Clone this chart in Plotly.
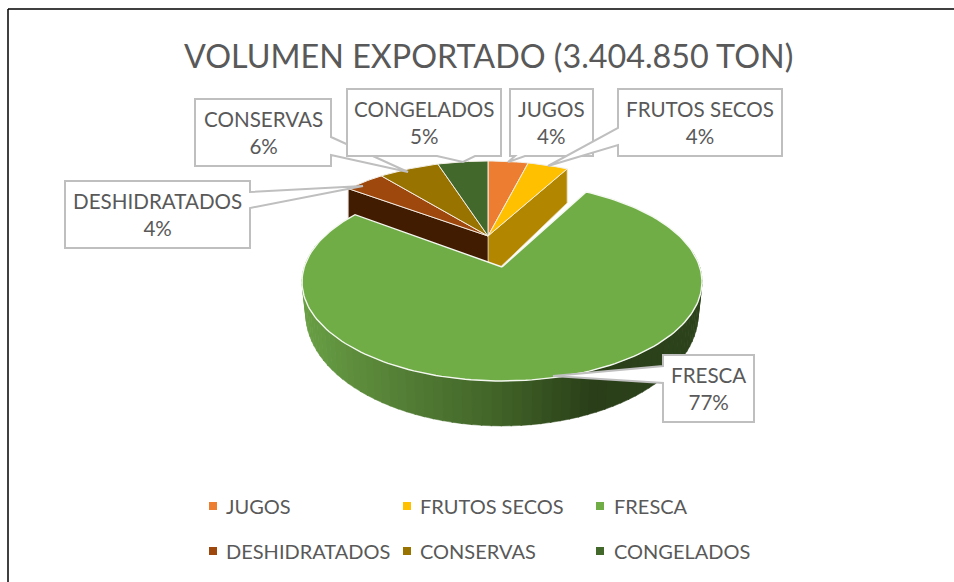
import numpy as np
import plotly.graph_objects as go

categories = ["JUGOS", "FRUTOS SECOS", "FRESCA", "DESHIDRATADOS", "CONSERVAS", "CONGELADOS"]
values = [4, 4, 77, 4, 6, 5]
colors = ["#ED7D31", "#FFC000", "#70AD47", "#9E480E", "#997300", "#43682B"]
title_text = "VOLUMEN EXPORTADO (3.404.850 TON)"
TXT = "#595959"
GRAY = "#BFBFBF"
FONT = "Lato"

total = sum(values)
bounds = np.cumsum([0] + values) / total * 360.0


def project(theta, cx, cy, rx, ry, k, r=1.0):
    t = np.radians(theta)
    u, v = r * np.sin(t), r * np.cos(t)
    w = 1 + k * v
    return cx + rx * u / w, cy - ry * v / w


SMALL = dict(cx=488, cy=236, rx=193, ry=90, k=0.2)
SMALL_B = dict(cx=488, cy=279, rx=193, ry=102, k=0.2)
FRESH = dict(cx=502, cy=267, rx=197.7, ry=96.9, k=0.15)
FRESH_B = dict(cx=502, cy=297, rx=194, ry=109.6, k=0.15)

fig = go.Figure()


def poly(xs, ys, fill, line="white", width=1.0, name=None):
    fig.add_trace(go.Scatter(
        x=list(xs), y=list(ys), mode="lines", fill="toself", fillcolor=fill,
        line=dict(color=line, width=width), hoverinfo="skip", showlegend=False, name=name))


def arc(a, b, geom, n=None):
    n = n or max(2, int(abs(b - a) / 1.5) + 2)
    return project(np.linspace(a, b, n), **geom)


fresh_i = categories.index("FRESCA")
a0, a1 = bounds[fresh_i], bounds[fresh_i + 1]

# radial side faces of the small wedges, next to the exploded slice
ax, ay = SMALL["cx"], SMALL["cy"]
bx, by = SMALL_B["cx"], SMALL_B["cy"]
tx, ty = project(a0, **SMALL)
ux, uy = project(a0, **SMALL_B)
poly([ax, tx, ux, bx, ax], [ay, ty, uy, by, ay], "#B38600", line="#E8DDB8", width=0.8)
tx, ty = project(a1, **SMALL)
ux, uy = project(a1, **SMALL_B)
poly([ax, tx, ux, bx, ax], [ay, ty, uy, by, ay], "#421C00", line="#CFC4BA", width=0.8)


# curved side of FRESCA with a left-to-right shading
def lerp(stops, x):
    xs = [s[0] for s in stops]
    return tuple(int(round(np.interp(x, xs, [s[1][i] for s in stops]))) for i in range(3))


stops = [(305, (104, 158, 68)), (400, (84, 127, 54)), (500, (64, 98, 39)),
         (590, (42, 63, 25)), (705, (44, 67, 27))]
edges = np.arange(80, 285.1, 2.5)
for e0, e1 in zip(edges[:-1], edges[1:]):
    x0, y0 = project(e0, **FRESH)
    x1, y1 = project(e1 + 0.3, **FRESH)
    x2, y2 = project(e1 + 0.3, **FRESH_B)
    x3, y3 = project(e0, **FRESH_B)
    col = "rgb(%d,%d,%d)" % lerp(stops, (x0 + x1 + x2 + x3) / 4)
    poly([x0, x1, x2, x3, x0], [y0, y1, y2, y3, y0], col, line=col, width=0.5)

# FRESCA top
xa, ya = arc(a0, a1, FRESH)
poly(np.r_[FRESH["cx"], xa, FRESH["cx"]], np.r_[FRESH["cy"], ya, FRESH["cy"]],
     colors[fresh_i], line="#F4F8F0", width=1.4)

# small wedge tops
for i, c in enumerate(colors):
    if i == fresh_i:
        continue
    xa, ya = arc(bounds[i], bounds[i + 1], SMALL)
    poly(np.r_[ax, xa, ax], np.r_[ay, ya, ay], c, line="#F2EEE6", width=1.0)

# legend squares
leg_x = [213, 407, 600]
leg_y = [506, 551]
leg_tx = [224, 418, 612]
for i, (name, c) in enumerate(zip(categories, colors)):
    r, col = divmod(i, 3)
    fig.add_trace(go.Scatter(x=[leg_x[col]], y=[leg_y[r]], mode="markers",
                             marker=dict(symbol="square", size=8, color=c),
                             hoverinfo="skip", showlegend=False, name=name))
    fig.add_annotation(x=leg_tx[col], y=leg_y[r], text=name, showarrow=False, xanchor="left",
                       yanchor="middle", font=dict(family=FONT, size=20, color=TXT))

# data-label callouts: box (x0,y0,x1,y1), pointer base and tip
callouts = {
    "CONSERVAS": ((195, 99, 331, 166), [(331, 137), (408, 172), (331, 155)], "R"),
    "DESHIDRATADOS": ((65, 181, 250, 248), [(250, 192), (363, 186), (250, 208)], "R"),
    "CONGELADOS": ((347, 89, 501, 156), [(475, 156), (463, 162), (437, 156)], "B"),
    "JUGOS": ((510, 89, 593, 156), [(525, 156), (508, 162), (515, 156)], "B"),
    "FRUTOS SECOS": ((618, 89, 782, 156), [(618, 128), (548, 166), (618, 145)], "L"),
    "FRESCA": ((663, 355, 754, 422), [(663, 366), (553, 376), (663, 383)], "L"),
}
shapes = [
    dict(type="line", xref="x", yref="y", x0=8, y0=582, x1=8, y1=9, line=dict(color="black", width=1.5)),
    dict(type="line", xref="x", yref="y", x0=8, y0=9, x1=954, y1=9, line=dict(color="black", width=1.5)),
]
for name, (box, ptr, side) in callouts.items():
    x0, y0, x1, y1 = box
    (p0x, p0y), (tx_, ty_), (p1x, p1y) = ptr
    if side == "R":
        path = f"M{x0},{y0} L{x1},{y0} L{p0x},{p0y} L{tx_},{ty_} L{p1x},{p1y} L{x1},{y1} L{x0},{y1} Z"
    elif side == "L":
        path = f"M{x0},{y0} L{x1},{y0} L{x1},{y1} L{x0},{y1} L{p1x},{p1y} L{tx_},{ty_} L{p0x},{p0y} Z"
    else:
        path = f"M{x0},{y0} L{x1},{y0} L{x1},{y1} L{p0x},{p0y} L{tx_},{ty_} L{p1x},{p1y} L{x0},{y1} Z"
    shapes.append(dict(type="path", xref="x", yref="y", path=path, fillcolor="white",
                       line=dict(color=GRAY, width=2), layer="above"))
    pct = values[categories.index(name)]
    fig.add_annotation(x=(x0 + x1) / 2, y=(y0 + y1) / 2, text=f"{name}<br>{pct}%", showarrow=False,
                       font=dict(family=FONT, size=20.6, color=TXT), align="center",
                       xanchor="center", yanchor="middle")

fig.add_annotation(x=488, y=55, text=title_text, showarrow=False, xanchor="center", yanchor="middle",
                   font=dict(family=FONT, size=32.3, color=TXT))

fig.update_layout(
    width=954, height=582, margin=dict(l=0, r=0, t=0, b=0),
    paper_bgcolor="white", plot_bgcolor="white", showlegend=False, shapes=shapes,
    xaxis=dict(range=[0, 954], visible=False, fixedrange=True),
    yaxis=dict(range=[582, 0], visible=False, fixedrange=True),
)
fig.write_html("out.html", config={"displayModeBar": False},
               post_script="document.body.style.margin='0';document.body.style.overflow='hidden';")
